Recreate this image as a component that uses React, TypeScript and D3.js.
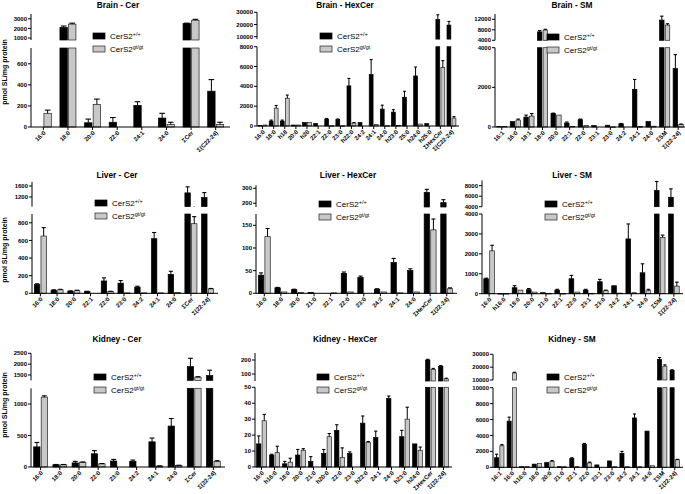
import React from 'react';
import * as d3 from 'd3';

// ---- Brain ----
const brainCerCats = ['16:0', '18:0', '20:0', '22:0', '24:1', '24:0', 'ΣCer', 'Σ(C22-24)'];
const brainCerWT = [0, 2100, 40, 45, 205, 85, 2500, 340];
const brainCerWTSem = [0, 150, 35, 45, 35, 45, 50, 110];
const brainCerGT = [130, 2450, 215, 0, 0, 25, 2850, 25];
const brainCerGTSem = [30, 100, 50, 0, 0, 20, 100, 20];
const brainCerLowTicks = [0, 200, 400, 600];
const brainCerUpTicks = [1000, 2000, 3000];

const brainHexCats = ['16:0', '18:0', 'h18', '20:0', 'h20', '22:1', '22:0', '23:0', 'h22:0', '24:2', '24:1', '24:0', 'h23:0', '25:0', 'h24:0', 'h25:0', 'ΣHexCer', 'Σ(C22-24)'];
const brainHexWT = [50, 500, 500, 100, 350, 250, 700, 650, 4050, 350, 5200, 1700, 1400, 2900, 5050, 250, 24000, 19500];
const brainHexWTSem = [0, 100, 100, 0, 0, 0, 60, 60, 750, 0, 1500, 400, 250, 600, 900, 0, 4000, 3000];
const brainHexGT = [100, 1800, 2800, 100, 350, 0, 30, 30, 300, 0, 150, 30, 50, 0, 200, 0, 5900, 800];
const brainHexGTSem = [0, 270, 320, 0, 0, 0, 0, 0, 50, 0, 0, 0, 0, 0, 0, 0, 700, 150];
const brainHexLowTicks = [0, 2000, 4000, 6000, 8000];
const brainHexUpTicks = [10000, 20000, 30000];

const brainSMCats = ['16:1', '16:0', '18:1', '18:0', '20:0', '22:1', '22:0', '23:1', '23:0', '24:2', '24:1', '24:0', 'ΣSM', 'Σ(22-24)'];
const brainSMWT = [30, 270, 500, 7200, 680, 200, 370, 70, 90, 160, 1900, 280, 11700, 2950];
const brainSMWTSem = [0, 0, 100, 500, 20, 50, 30, 0, 0, 20, 500, 0, 1500, 700];
const brainSMGT = [30, 350, 550, 7900, 600, 30, 80, 0, 10, 0, 20, 40, 9800, 120];
const brainSMGTSem = [0, 50, 130, 300, 0, 0, 0, 0, 0, 0, 0, 0, 500, 30];
const brainSMLowTicks = [0, 2000, 4000];
const brainSMUpTicks = [4000, 8000, 12000];

// ---- Liver ----
const liverCerCats = ['16:0', '18:0', '20:0', '22:1', '22:0', '23:0', '24:2', '24:1', '24:0', 'ΣCer', 'Σ(22-24)'];
const liverCerWT = [100, 35, 25, 20, 140, 115, 70, 620, 215, 1350, 1180];
const liverCerWTSem = [8, 5, 3, 3, 35, 30, 10, 70, 35, 220, 180];
const liverCerGT = [650, 40, 30, 0, 20, 5, 5, 5, 10, 790, 50];
const liverCerGTSem = [95, 5, 5, 0, 3, 0, 0, 0, 0, 80, 5];
const liverCerLowTicks = [0, 200, 400, 600, 800];
const liverCerUpTicks = [1200, 1600];

const liverHexCats = ['16:0', '18:0', '20:0', '21:0', '22:1', '22:0', '23:0', '24:2', '24:1', '24:0', 'ΣHexCer', 'Σ(22-24)'];
const liverHexWT = [40, 12, 8, 2, 0, 44, 35, 9, 68, 50, 273, 204];
const liverHexWTSem = [5, 1, 1, 0, 0, 3, 3, 1, 9, 4, 20, 20];
const liverHexGT = [125, 3, 2, 0, 1, 3, 0, 3, 1, 3, 140, 10];
const liverHexGTSem = [18, 0, 0, 0, 0, 0, 0, 0, 0, 0, 24, 2];
const liverHexLowTicks = [0, 50, 100, 150];
const liverHexUpTicks = [200, 300];

const liverSMCats = ['16:0', 'h16:0', '18:0', '20:0', '21:0', '22:1', '22:0', '23:1', '23:0', '24:2', '24:1', '24:0', 'ΣSM', 'Σ(22-24)'];
const liverSMWT = [750, 10, 300, 200, 50, 180, 750, 180, 600, 400, 2750, 1050, 7100, 5800];
const liverSMWTSem = [30, 0, 100, 60, 0, 40, 170, 40, 120, 0, 750, 450, 1700, 1600];
const liverSMGT = [2150, 10, 180, 80, 20, 10, 80, 20, 150, 30, 50, 150, 2820, 380];
const liverSMGTSem = [280, 0, 0, 0, 0, 0, 0, 0, 30, 0, 0, 70, 120, 200];
const liverSMLowTicks = [0, 1000, 2000, 3000, 4000];
const liverSMUpTicks = [4000, 6000, 8000];

// ---- Kidney ----
const kidneyCerCats = ['16:0', '18:0', '20:0', '22:0', '23:0', '24:2', '24:1', '24:0', 'ΣCer', 'Σ(22-24)'];
const kidneyCerWT = [320, 35, 65, 210, 95, 90, 400, 650, 1890, 1470];
const kidneyCerWTSem = [70, 5, 25, 50, 25, 20, 60, 120, 380, 250];
const kidneyCerGT = [1110, 35, 75, 50, 0, 0, 15, 25, 1400, 90];
const kidneyCerGTSem = [20, 5, 5, 5, 0, 0, 3, 3, 20, 10];
const kidneyCerLowTicks = [0, 500, 1000];
const kidneyCerUpTicks = [1500, 2000, 2500];

const kidneyHexCats = ['16:0', 'h16:0', '18:0', '20:0', '21:0', 'h20:0', '22:0', '23:0', 'h22:0', '24:1', '24:0', 'h23:0', 'h24:0', 'ΣHexCer', 'Σ(22-24)'];
const kidneyHexWT = [14.5, 7.5, 2, 7.5, 3.5, 8.5, 23, 8.5, 27.5, 18.5, 43, 19, 14.5, 200, 155];
const kidneyHexWTSem = [5, 0.5, 1.5, 3.5, 3, 2.5, 3.5, 1, 4.5, 4, 1.5, 4, 0, 5, 5];
const kidneyHexGT = [29, 9, 3, 10.5, 0, 19, 6, 0, 15.5, 0, 0, 30, 10.5, 133, 65];
const kidneyHexGTSem = [4, 4, 2.5, 1, 0, 2, 6, 0, 0.5, 0, 0, 7.5, 2, 7, 5];
const kidneyHexLowTicks = [0, 10, 20, 30, 40, 50];
const kidneyHexUpTicks = [100, 200];

const kidneySMCats = ['16:1', '16:0', 'h16:0', '18:0', '20:0', '21:0', '22:1', '22:0', '23:1', '23:0', '24:2', '24:1', '24:0', 'ΣSM', 'Σ(22-24)'];
const kidneySMWT = [1200, 5800, 80, 400, 600, 80, 1100, 2900, 300, 800, 1750, 6200, 4550, 26000, 17500];
const kidneySMWTSem = [450, 500, 0, 0, 0, 0, 100, 100, 0, 0, 250, 500, 0, 1500, 500];
const kidneySMGT = [2700, 15500, 100, 500, 750, 80, 80, 550, 0, 80, 80, 80, 200, 20800, 950];
const kidneySMGTSem = [150, 500, 0, 0, 100, 0, 0, 100, 0, 0, 0, 0, 0, 1000, 50];
const kidneySMLowTicks = [0, 2000, 4000, 6000, 8000, 10000];
const kidneySMUpTicks = [10000, 20000, 30000];

const FONT = '"Liberation Sans", Arial, sans-serif';
const GREY = '#c8c8c8';

// layout of each panel: axis x range, two y segments (lower / upper) of the broken axis
const panels = [
  { title: 'Brain - Cer', cats: brainCerCats, wt: brainCerWT, wtSem: brainCerWTSem, gt: brainCerGT, gtSem: brainCerGTSem,
    x0: 31, x1: 228, pad: 0.35, low: [0, 750], lowPx: [127, 48], lowTicks: brainCerLowTicks,
    up: [800, 3500], upPx: [40, 14], upTicks: brainCerUpTicks, tx: 118, ty: 7.5, lx: 93, ly: 33, yLabel: 72 },
  { title: 'Brain - HexCer', cats: brainHexCats, wt: brainHexWT, wtSem: brainHexWTSem, gt: brainHexGT, gtSem: brainHexGTSem,
    x0: 257, x1: 457, pad: 0.2, low: [0, 8000], lowPx: [126, 46.7], lowTicks: brainHexLowTicks,
    up: [8000, 30000], upPx: [39.1, 12.3], upTicks: brainHexUpTicks, tx: 345, ty: 7.5, lx: 320, ly: 33 },
  { title: 'Brain - SM', cats: brainSMCats, wt: brainSMWT, wtSem: brainSMWTSem, gt: brainSMGT, gtSem: brainSMGTSem,
    x0: 495, x1: 685, pad: 0.25, low: [0, 4000], lowPx: [127, 47.7], lowTicks: brainSMLowTicks,
    up: [4000, 14000], upPx: [40.3, 14.05], upTicks: brainSMUpTicks, tx: 572, ty: 7.5, lx: 547, ly: 34 },
  { title: 'Liver - Cer', cats: liverCerCats, wt: liverCerWT, wtSem: liverCerWTSem, gt: liverCerGT, gtSem: liverCerGTSem,
    x0: 32, x1: 216, pad: 0.28, low: [0, 900], lowPx: [293.3, 214], lowTicks: liverCerLowTicks,
    up: [850, 1750], upPx: [206.6, 181.9], upTicks: liverCerUpTicks, tx: 117, ty: 177.5, lx: 95, ly: 200, yLabel: 250 },
  { title: 'Liver - HexCer', cats: liverHexCats, wt: liverHexWT, wtSem: liverHexWTSem, gt: liverHexGT, gtSem: liverHexGTSem,
    x0: 256, x1: 455, pad: 0.28, low: [0, 175], lowPx: [293.3, 214], lowTicks: liverHexLowTicks,
    up: [175, 320], upPx: [207, 185.3], upTicks: liverHexUpTicks, tx: 348, ty: 177.5, lx: 319, ly: 201 },
  { title: 'Liver - SM', cats: liverSMCats, wt: liverSMWT, wtSem: liverSMWTSem, gt: liverSMGT, gtSem: liverSMGTSem,
    x0: 482, x1: 681, pad: 0.25, low: [0, 4000], lowPx: [293.7, 214], lowTicks: liverSMLowTicks,
    up: [4000, 9000], upPx: [206.7, 180.45], upTicks: liverSMUpTicks, tx: 572, ty: 177.5, lx: 545, ly: 201 },
  { title: 'Kidney - Cer', cats: kidneyCerCats, wt: kidneyCerWT, wtSem: kidneyCerWTSem, gt: kidneyCerGT, gtSem: kidneyCerGTSem,
    x0: 31, x1: 223, pad: 0.28, low: [0, 1250], lowPx: [467, 388.3], lowTicks: kidneyCerLowTicks,
    up: [1250, 2500], upPx: [380.4, 353.3], upTicks: kidneyCerUpTicks, tx: 117, ty: 342, lx: 94, ly: 374, yLabel: 405 },
  { title: 'Kidney - HexCer', cats: kidneyHexCats, wt: kidneyHexWT, wtSem: kidneyHexWTSem, gt: kidneyHexGT, gtSem: kidneyHexGTSem,
    x0: 255, x1: 450, pad: 0.25, low: [0, 50], lowPx: [467, 387.3], lowTicks: kidneyHexLowTicks,
    up: [50, 250], upPx: [381, 353], upTicks: kidneyHexUpTicks, tx: 345, ty: 342, lx: 317, ly: 374 },
  { title: 'Kidney - SM', cats: kidneySMCats, wt: kidneySMWT, wtSem: kidneySMWTSem, gt: kidneySMGT, gtSem: kidneySMGTSem,
    x0: 493, x1: 681, pad: 0.25, low: [0, 10000], lowPx: [467.3, 387.7], lowTicks: kidneySMLowTicks,
    up: [10000, 30000], upPx: [380, 354.3], upTicks: kidneySMUpTicks, tx: 572, ty: 342, lx: 547, ly: 374 },
];

function Panel({ p }: { p: any }) {
  const x = d3.scaleBand<string>().domain(p.cats).range([p.x0, p.x1])
    .paddingInner(p.pad).paddingOuter(p.pad / 2);
  const low = d3.scaleLinear().domain(p.low).range(p.lowPx);
  const up = d3.scaleLinear().domain(p.up).range(p.upPx);
  const y0 = p.lowPx[0];
  const gap = 1.2;
  const bw = (x.bandwidth() - gap) / 2;

  // pixel spans of [a, b] on the broken axis
  const segs = (a: number, b: number) => {
    const out: [number, number][] = [];
    if (a < p.low[1]) out.push([low(Math.max(a, 0)), low(Math.min(b, p.low[1]))]);
    if (b > p.up[0]) out.push([up(Math.max(a, p.up[0])), up(Math.min(b, p.up[1]))]);
    return out;
  };
  const ypos = (v: number) => (v > p.low[1] ? up(Math.min(Math.max(v, p.up[0]), p.up[1])) : low(v));

  const bars = (vals: number[], sems: number[], fill: string, off: number) =>
    p.cats.map((c: string, i: number) => {
      const v = vals[i];
      if (!v) return null;
      const bx = (x(c) as number) + off;
      const cx = bx + bw / 2;
      const top = v + sems[i];
      const eTop = ypos(top);
      return (
        <g key={c}>
          {segs(0, v).map(([ya, yb], k) => (
            <rect key={k} x={bx} y={yb} width={bw} height={Math.max(0.6, ya - yb)}
              fill={fill} stroke={fill === GREY ? '#222' : '#000'} strokeWidth={0.7} />
          ))}
          {sems[i] > 0 && segs(v, top).map(([ya, yb], k) => (
            <line key={'e' + k} x1={cx} x2={cx} y1={ya} y2={yb} stroke="#000" strokeWidth={1} />
          ))}
          {sems[i] > 0 && (
            <line x1={cx - bw * 0.38} x2={cx + bw * 0.38} y1={eTop} y2={eTop} stroke="#000" strokeWidth={1.1} />
          )}
        </g>
      );
    });

  return (
    <g>
      <text x={p.tx} y={p.ty} textAnchor="middle" fontSize={8.3} fontWeight="bold" fontFamily={FONT}>{p.title}</text>
      {p.yLabel && (
        <text transform={`translate(7,${p.yLabel}) rotate(-90)`} textAnchor="middle" fontSize={7}
          fontWeight="bold" fontFamily={FONT}>pmol SL/mg protein</text>
      )}
      {/* y axis, lower segment */}
      <line x1={p.x0} x2={p.x0} y1={p.lowPx[0]} y2={p.lowPx[1]} stroke="#000" strokeWidth={1} />
      {p.lowTicks.map((t: number) => (
        <g key={'l' + t}>
          <line x1={p.x0 - 3} x2={p.x0} y1={low(t)} y2={low(t)} stroke="#000" strokeWidth={1} />
          <text x={p.x0 - 4} y={low(t)} dy="0.35em" textAnchor="end" fontSize={6} fontWeight="bold" fontFamily={FONT}>{t}</text>
        </g>
      ))}
      {/* y axis, upper segment */}
      <line x1={p.x0} x2={p.x0} y1={p.upPx[0]} y2={p.upPx[1]} stroke="#000" strokeWidth={1} />
      {p.upTicks.map((t: number) => (
        <g key={'u' + t}>
          <line x1={p.x0 - 3} x2={p.x0} y1={up(t)} y2={up(t)} stroke="#000" strokeWidth={1} />
          <text x={p.x0 - 4} y={up(t)} dy="0.35em" textAnchor="end" fontSize={6} fontWeight="bold" fontFamily={FONT}>{t}</text>
        </g>
      ))}
      {bars(p.wt, p.wtSem, '#000', 0)}
      {bars(p.gt, p.gtSem, GREY, bw + gap)}
      {/* x axis */}
      <line x1={p.x0} x2={p.x1 + 2} y1={y0} y2={y0} stroke="#000" strokeWidth={1} />
      {p.cats.map((c: string) => {
        const cx = (x(c) as number) + x.bandwidth() / 2;
        return (
          <g key={'x' + c}>
            <line x1={cx} x2={cx} y1={y0} y2={y0 + 3} stroke="#000" strokeWidth={1} />
            <text transform={`translate(${cx + 1.5},${y0 + 5}) rotate(-45)`} textAnchor="end" dy="0.3em"
              fontSize={6} fontWeight="bold" fontFamily={FONT}>{c}</text>
          </g>
        );
      })}
      {/* legend */}
      <rect x={p.lx} y={p.ly} width={12} height={6} fill="#000" stroke="#000" strokeWidth={0.7} />
      <text x={p.lx + 17} y={p.ly + 6} fontSize={8} fontFamily={FONT}>
        CerS2<tspan fontSize={5.5} dy={-3.5}>+/+</tspan>
      </text>
      <rect x={p.lx} y={p.ly + 13} width={12} height={6} fill={GREY} stroke="#222" strokeWidth={0.7} />
      <text x={p.lx + 17} y={p.ly + 19} fontSize={8} fontFamily={FONT}>
        CerS2<tspan fontSize={5.5} dy={-3.5}>gt/gt</tspan>
      </text>
    </g>
  );
}

export default function App() {
  return (
    <svg width={685} height={494} style={{ position: 'absolute', left: 0, top: 0, background: '#fff' }}>
      {panels.map((p) => <Panel key={p.title} p={p} />)}
    </svg>
  );
}
